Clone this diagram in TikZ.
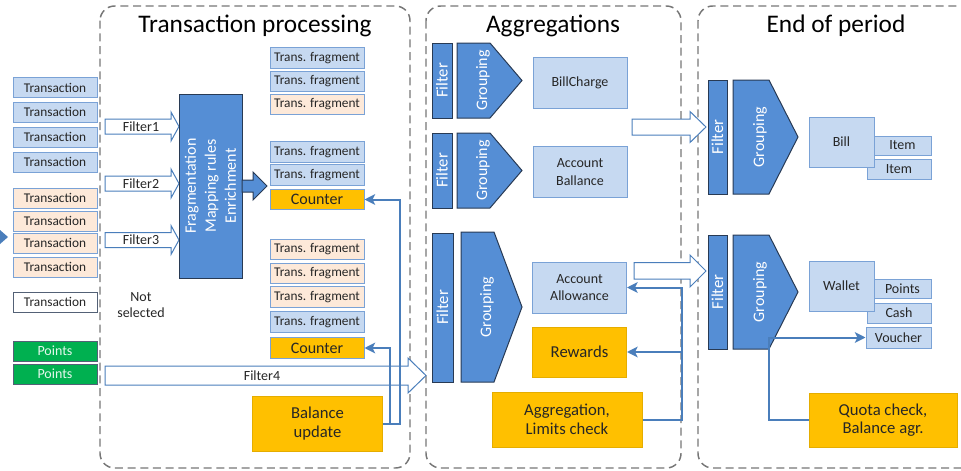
\documentclass[tikz,border=0pt]{standalone}
\usepackage{fontspec}
\setmainfont{Carlito}
\usetikzlibrary{arrows.meta}

\definecolor{lightblue}{RGB}{198,217,241}
\definecolor{peach}{RGB}{253,233,217}
\definecolor{edgeblue}{RGB}{122,162,214}
\definecolor{midblue}{RGB}{85,142,213}
\definecolor{darkline}{RGB}{40,58,84}
\definecolor{linkblue}{RGB}{74,126,187}
\definecolor{amber}{RGB}{255,192,0}
\definecolor{leaf}{RGB}{0,176,80}
\definecolor{ink}{RGB}{38,38,38}
\definecolor{panelgray}{RGB}{118,118,118}

\tikzset{every picture/.style={line width=0.75pt}}
\tikzset{
  panel/.style={draw=panelgray, line width=1.1pt, dash pattern=on 6pt off 3.5pt, rounded corners=11pt},
  paneltitle/.style={text=black, font=\fontsize{19}{22}\selectfont},
  trans/.style={draw=edgeblue, fill=lightblue, minimum width=63pt, minimum height=15pt, inner sep=0pt, text=ink, font=\fontsize{10}{12}\selectfont},
  transpeach/.style={trans, fill=peach},
  transwhite/.style={trans, fill=white, draw=darkline!80},
  pointsbox/.style={trans, fill=leaf, draw=darkline!80, text=white!90!leaf, font=\fontsize{10.5}{12}\selectfont},
  frag/.style={draw=edgeblue, fill=lightblue, minimum width=70.5pt, minimum height=15.4pt, inner sep=0pt, text=ink, font=\fontsize{10}{12}\selectfont},
  fragpeach/.style={frag, fill=peach},
  countbox/.style={frag, fill=amber, font=\fontsize{12}{14}\selectfont},
  bigblock/.style={rotate=90, draw=darkline, fill=midblue, text=white, align=center, inner sep=0pt, font=\fontsize{12}{15}\selectfont},
  filterbar/.style={rotate=90, draw=darkline, fill=midblue, text=white, minimum height=15pt, inner sep=0pt, font=\fontsize{12.5}{14}\selectfont},
  groupshape/.style={draw=darkline, fill=midblue},
  grouptext/.style={rotate=90, text=white, inner sep=0pt, font=\fontsize{12}{14}\selectfont},
  resultbox/.style={draw=edgeblue, fill=lightblue, minimum width=70.5pt, minimum height=38.25pt, inner sep=0pt, align=center, text=ink, font=\fontsize{10.5}{13}\selectfont},
  itembox/.style={draw=edgeblue, fill=lightblue, inner sep=0pt, text=ink, font=\fontsize{10.5}{12}\selectfont},
  taskbox/.style={fill=amber, draw=amber!90!black, inner sep=0pt, align=center, text=ink, font=\fontsize{12.5}{14}\selectfont},
  blockarrow/.style={draw=linkblue, fill=white},
  labeltext/.style={text=ink, inner sep=0pt, align=center, font=\fontsize{10.5}{11.5}\selectfont},
  flowlink/.style={draw=linkblue, line width=1.5pt, -{Stealth[length=8pt,width=8pt,inset=2pt]}},
  plainlink/.style={draw=linkblue, line width=1.5pt}
}

\begin{document}
\begin{tikzpicture}[x=0.75pt,y=0.75pt,yscale=-1,xscale=1]
	\useasboundingbox (0,0) rectangle (961,471);

	%Shape: Dashed panels
	\draw[panel] (100,6) rectangle (410,468);
	\draw[panel] (426,6) rectangle (681,468);
	\draw[panel] (698,6) rectangle (990,468);

	% Text Node
	\node[paneltitle] (ttrans) at (255,26) {Transaction processing};
	% Text Node
	\node[paneltitle] (taggr) at (553,26) {Aggregations};
	% Text Node
	\node[paneltitle] (tend) at (836,26) {End of period};

	%Shape: Triangle
	\fill[linkblue] (0,230) -- (8,237) -- (0,244) -- cycle;

	%Transactions
	\node[trans] (tr1) at (55,87.5) {Transaction};
	\node[trans] (tr2) at (55,112) {Transaction};
	\node[trans] (tr3) at (55,137) {Transaction};
	\node[trans] (tr4) at (55,162) {Transaction};
	\node[transpeach] (tr5) at (55,198) {Transaction};
	\node[transpeach] (tr6) at (55,221) {Transaction};
	\node[transpeach] (tr7) at (55,243) {Transaction};
	\node[transpeach] (tr8) at (55,267) {Transaction};
	\node[transwhite] (tr9) at (55,302) {Transaction};
	\node[pointsbox] (pt1) at (55,351) {Points};
	\node[pointsbox] (pt2) at (55,374) {Points};

	% Text Node
	\node[labeltext] (notsel) at (141,305) {Not\\selected};

	%Block Arrow: Filter1..Filter3
	\draw[blockarrow] (105,119) -- (171,119) -- (171,112) -- (179,126.5) -- (171,141) -- (171,134) -- (105,134) -- cycle;
	\node[labeltext] (lf1) at (141,126.5) {Filter1};
	\draw[blockarrow] (105,176) -- (171,176) -- (171,169) -- (179,183.5) -- (171,198) -- (171,191) -- (105,191) -- cycle;
	\node[labeltext] (lf2) at (141,183.5) {Filter2};
	\draw[blockarrow] (105,232.5) -- (171,232.5) -- (171,225.5) -- (179,240) -- (171,254.5) -- (171,247.5) -- (105,247.5) -- cycle;
	\node[labeltext] (lf3) at (141,240) {Filter3};
	%Block Arrow: Filter4
	\draw[blockarrow] (105,366) -- (408,366) -- (408,358) -- (426,375.5) -- (408,393) -- (408,385) -- (105,385) -- cycle;
	\node[labeltext] (lf4) at (262,375.5) {Filter4};

	%Fragmentation block
	\node[bigblock, minimum width=138pt, minimum height=47.25pt] (fragm) at (210.5,186) {Fragmentation\\Mapping rules\\Enrichment};
	\draw[groupshape] (242,180) -- (253,180) -- (253,172) -- (267,186) -- (253,200) -- (253,192) -- (242,192) -- cycle;

	%Fragments
	\node[frag] (fr1) at (317,58) {Trans. fragment};
	\node[frag] (fr2) at (317,81.5) {Trans. fragment};
	\node[fragpeach] (fr3) at (317,104.5) {Trans. fragment};
	\node[frag] (fr4) at (317,152) {Trans. fragment};
	\node[frag] (fr5) at (317,175) {Trans. fragment};
	\node[countbox] (cnt1) at (317,199.5) {Counter};
	\node[fragpeach] (fr6) at (317,249.5) {Trans. fragment};
	\node[fragpeach] (fr7) at (317,273.5) {Trans. fragment};
	\node[fragpeach] (fr8) at (317,297) {Trans. fragment};
	\node[frag] (fr9) at (317,322) {Trans. fragment};
	\node[countbox] (cnt2) at (317,348) {Counter};

	\node[taskbox, minimum width=97.5pt, minimum height=41.25pt] (balance) at (317.5,423.5) {Balance\\update};
	\draw[flowlink] (balance.east) -- ++(17,0) |- (cnt1.east);
	\draw[flowlink] (balance.east) -- ++(7,0) |- (cnt2.east);

	%Aggregations
	\node[filterbar, minimum width=56.25pt] (fa1) at (442,80.5) {Filter};
	\draw[groupshape] (457,43) -- (490,43) -- (522,80.5) -- (490,118) -- (457,118) -- cycle;
	\node[grouptext] (ga1) at (483,80.5) {Grouping};
	\node[resultbox] (billch) at (580,82.5) {BillCharge};

	\node[filterbar, minimum width=56.25pt] (fa2) at (442,170.5) {Filter};
	\draw[groupshape] (457,133) -- (490,133) -- (522,170.5) -- (490,208) -- (457,208) -- cycle;
	\node[grouptext] (ga2) at (483,170.5) {Grouping};
	\node[resultbox] (ballance) at (580,172) {Account\\Ballance};

	\node[filterbar, minimum width=111.75pt, minimum height=15.75pt] (fa3) at (442.5,307.5) {Filter};
	\draw[groupshape] (461,232) -- (494,232) -- (522,307) -- (494,382) -- (461,382) -- cycle;
	\node[grouptext] (ga3) at (487,307) {Grouping};
	\node[resultbox] (allow) at (579.5,287.5) {Account\\Allowance};
	\node[taskbox, minimum width=70.5pt, minimum height=37.5pt] (rewards) at (579.5,352) {Rewards};
	\node[taskbox, minimum width=112.5pt, minimum height=41.25pt] (aggr) at (567,419.5) {Aggregation,\\Limits check};
	\draw[flowlink] (aggr.east) -- ++(39,0) |- (allow.east);
	\draw[flowlink] (aggr.east) -- ++(39,0) |- (rewards.east);

	%Block Arrows between panels
	\draw[blockarrow] (632,119) -- (690,119) -- (690,111.5) -- (706,127) -- (690,142.5) -- (690,135) -- (632,135) -- cycle;
	\draw[blockarrow] (634,262.5) -- (690,262.5) -- (690,255) -- (706,271) -- (690,287) -- (690,279) -- (634,279) -- cycle;

	%End of period
	\node[filterbar, minimum width=85.5pt, minimum height=14.25pt] (fe1) at (717.5,137) {Filter};
	\draw[groupshape] (733,80) -- (769,80) -- (798,137) -- (769,194) -- (733,194) -- cycle;
	\node[grouptext] (ge1) at (760,137) {Grouping};
	\node[itembox, minimum width=42.75pt, minimum height=14.25pt] (item1) at (902.5,145.5) {Item};
	\node[itembox, minimum width=48pt, minimum height=15.4pt] (item2) at (899,169.5) {Item};
	\node[resultbox, minimum width=48.75pt, minimum height=37.5pt] (bill) at (841.5,142) {Bill};

	\node[filterbar, minimum width=85.5pt, minimum height=14.25pt] (fe2) at (717.5,292) {Filter};
	\draw[groupshape] (733,235) -- (769,235) -- (798,292) -- (769,349) -- (733,349) -- cycle;
	\node[grouptext] (ge2) at (760,292) {Grouping};
	\node[itembox, minimum width=42.75pt, minimum height=14.25pt] (ptitem) at (902.5,288.5) {Points};
	\node[itembox, minimum width=48pt, minimum height=15pt] (cash) at (899,313) {Cash};
	\node[itembox, minimum width=48.75pt, minimum height=15.75pt] (voucher) at (898.5,337.5) {Voucher};
	\node[resultbox, minimum width=48.75pt, minimum height=37.5pt] (wallet) at (841.5,286) {Wallet};

	\node[taskbox, minimum width=111pt, minimum height=40.5pt] (quota) at (883,420) {Quota check,\\Balance agr.};
	\coordinate (qturn) at (769,337.5);
	\draw[flowlink] (quota.west) -| (qturn) -- (voucher.west);

\end{tikzpicture}
\end{document}
